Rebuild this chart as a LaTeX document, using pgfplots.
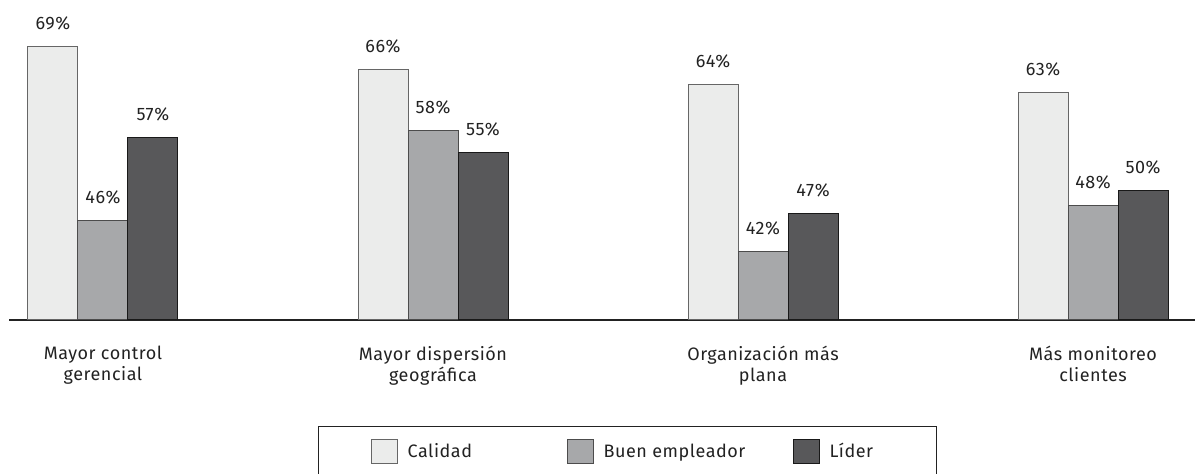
\documentclass[border=0pt]{standalone}
\usepackage{pgfplots}
\pgfplotsset{compat=1.18}
\usepackage{fontspec}
\setmainfont[LetterSpace=3]{Fira Sans}
\usetikzlibrary{calc}
\definecolor{cCal}{HTML}{EBECEB}
\definecolor{cBue}{HTML}{A7A8AA}
\definecolor{cLid}{HTML}{58585A}
\definecolor{cTxt}{HTML}{222222}
\begin{document}
\begin{tikzpicture}
\begin{axis}[
  name=ax,
  scale only axis,
  width=1186pt, height=320pt,
  ybar=0pt, bar width=50pt,
  xmin=-0.2848, xmax=3.309,
  ymin=32.91, ymax=75.21,
  axis y line=none,
  axis x line*=bottom,
  x axis line style={-, line width=1.4pt, color=cTxt},
  xtick={0,1,2,3},
  xticklabels={{Mayor control\\gerencial},{Mayor dispersión\\geográfica},{Organización más\\plana},{Más monitoreo\\clientes}},
  xtick style={draw=none},
  xticklabel style={align=center, font=\fontsize{18}{21}\selectfont, text=cTxt, yshift=-18pt},
  clip=false,
  /pgf/number format/assume math mode=true,
  nodes near coords={\pgfmathprintnumber{\pgfplotspointmeta}\%},
  nodes near coords style={font=\fontsize{18}{21}\selectfont, text=cTxt, inner sep=0pt, anchor=south, yshift=16pt},
  legend columns=3,
  legend cell align=left,
  legend image code/.code={\draw[#1, line width=1pt] (0pt,-12pt) rectangle (26pt,12pt); \path (36pt,0pt);},
  legend style={at={(rel axis cs:0.2605,-0.33125)}, anchor=north west,
    draw=cTxt, line width=1.4pt, inner xsep=52pt, inner ysep=12pt,
    column sep=0pt, row sep=0pt,
    nodes={inner sep=0pt, font=\fontsize{18}{21}\selectfont, text=cTxt}},
]
\addplot[fill=cCal, draw=black!60, line width=1pt] coordinates {(0,69) (1,66) (2,64) (3,63)};
\addplot[fill=cBue, draw=black!70, line width=1pt] coordinates {(0,46) (1,58) (2,42) (3,48)};
\addplot[fill=cLid, draw=black!90, line width=1pt] coordinates {(0,57) (1,55) (2,47) (3,50)};
\legend{\makebox[159pt][l]{Calidad},\makebox[189pt][l]{Buen empleador},\makebox[55pt][l]{Líder}}
\end{axis}
\pgfresetboundingbox
\path ($(ax.south west)+(-9pt,-154pt)$) rectangle (ax.north east);
\end{tikzpicture}
\end{document}
